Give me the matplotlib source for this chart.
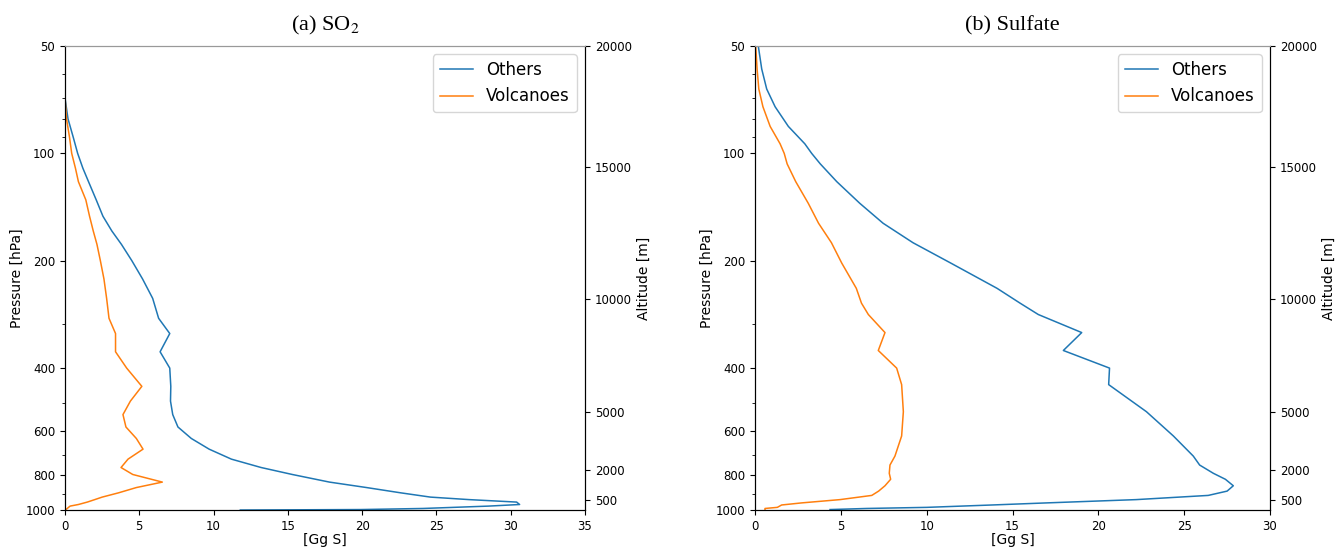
import numpy as np
import matplotlib
matplotlib.use("Agg")
import matplotlib.pyplot as plt
from matplotlib.ticker import NullLocator, NullFormatter

plt.rcParams['mathtext.fontset'] = 'stix'

# ---- data ----
# (a) SO2, pressure levels [hPa] and emissions [Gg S]
so2_pressure = [50, 60, 70, 80, 90, 100, 110, 120, 135, 150, 165, 180, 200, 225,
                255, 290, 320, 360, 400, 450, 495, 540, 585, 630, 675, 720,
                760, 795, 835, 865, 895, 920, 935, 950, 965, 975, 990, 997, 1000]
so2_others = [0.0, 0.0, 0.0, 0.2, 0.55, 0.85, 1.2, 1.58, 2.1, 2.55, 3.15, 3.8, 4.5, 5.22,
              5.9, 6.3, 7.05, 6.4, 7.05, 7.12, 7.1, 7.25, 7.6, 8.5, 9.7, 11.2,
              13.2, 15.3, 17.8, 20.3, 22.6, 24.6, 27.2, 30.4, 30.6, 28.5, 24.1, 19.9, 11.8]
so2_volcanoes = [0.0, 0.0, 0.0, 0.1, 0.3, 0.45, 0.7, 0.9, 1.4, 1.65, 1.9, 2.15, 2.38, 2.62,
                 2.8, 2.96, 3.4, 3.4, 4.15, 5.17, 4.4, 3.9, 4.1, 4.8, 5.25, 4.24,
                 3.77, 4.56, 6.55, 4.8, 3.6, 2.5, 2.0, 1.5, 0.9, 0.34, 0.15, 0.05, 0.0]

# (b) Sulfate
sulf_pressure = [50, 58, 66, 74, 84, 94, 100, 107, 120, 138, 157, 178, 203, 239, 263,
                 283, 318, 357, 400, 445, 530, 620, 706, 748, 789, 820, 855, 885,
                 910, 935, 955, 968, 983, 990, 997]
sulf_others = [0.19, 0.39, 0.68, 1.17, 1.94, 2.9, 3.3, 3.8, 4.76, 6.1, 7.46, 9.2, 11.4, 14.1, 15.44,
               16.5, 19.03, 17.96, 20.65, 20.6, 22.8, 24.37, 25.53, 25.9, 26.7, 27.4, 27.86, 27.5,
               26.4, 22.2, 17.0, 13.8, 10.0, 6.5, 4.37]
sulf_volcanoes = [0.04, 0.12, 0.22, 0.46, 0.88, 1.46, 1.7, 1.87, 2.37, 3.1, 3.7, 4.45, 5.05, 5.9, 6.2,
                  6.6, 7.57, 7.18, 8.25, 8.54, 8.64, 8.54, 8.15, 7.86, 7.82, 7.9, 7.57, 7.2,
                  6.8, 4.95, 2.72, 1.55, 1.3, 0.58, 0.58]

pressure_ticks = [50, 100, 200, 400, 600, 800, 1000]
# altitude tick labels and the pressure levels they sit at
altitude_ticks = [500, 2000, 5000, 10000, 15000, 20000]
altitude_ticks_hpa = [938, 772, 531, 256, 109, 50]

panels = [
    (r"(a) SO$_2$", so2_pressure, so2_others, so2_volcanoes, 35, 5),
    ("(b) Sulfate", sulf_pressure, sulf_others, sulf_volcanoes, 30, 5),
]

fig = plt.figure(figsize=(13.38, 5.48), dpi=100)
boxes = [[0.0486, 0.0693, 0.3886, 0.8467], [0.5643, 0.0693, 0.3849, 0.8467]]

for box, (title, pres, others, volc, xmax, xstep) in zip(boxes, panels):
    ax = fig.add_axes(box)
    ax.plot(others, pres, color='tab:blue', lw=1.1, label='Others')
    ax.plot(volc, pres, color='tab:orange', lw=1.1, label='Volcanoes')
    ax.set_yscale('log')
    ax.set_ylim(1000, 50)
    ax.set_xlim(0, xmax)
    ax.set_xticks(np.arange(0, xmax + 1, xstep))
    ax.set_yticks(pressure_ticks)
    ax.set_yticklabels([str(p) for p in pressure_ticks])
    ax.yaxis.set_minor_formatter(NullFormatter())
    ax.tick_params(labelsize=8.5)
    ax.set_xlabel('[Gg S]', fontsize=10, labelpad=0)
    ax.set_ylabel('Pressure [hPa]', fontsize=10, labelpad=1)
    ax.set_title(title, family=['Liberation Serif', 'DejaVu Serif'], fontsize=16, pad=11)
    ax.legend(loc='upper right', fontsize=12)
    ax.spines['top'].set_color('0.6')

    ax2 = ax.twinx()
    ax2.set_yscale('log')
    ax2.set_ylim(1000, 50)
    ax2.set_yticks(altitude_ticks_hpa)
    ax2.set_yticklabels([str(a) for a in altitude_ticks])
    ax2.yaxis.set_minor_locator(NullLocator())
    ax2.tick_params(labelsize=8.5)
    ax2.set_ylabel('Altitude [m]', fontsize=10)
    ax2.spines['top'].set_color('0.6')

fig.savefig('out.png', dpi=100)
